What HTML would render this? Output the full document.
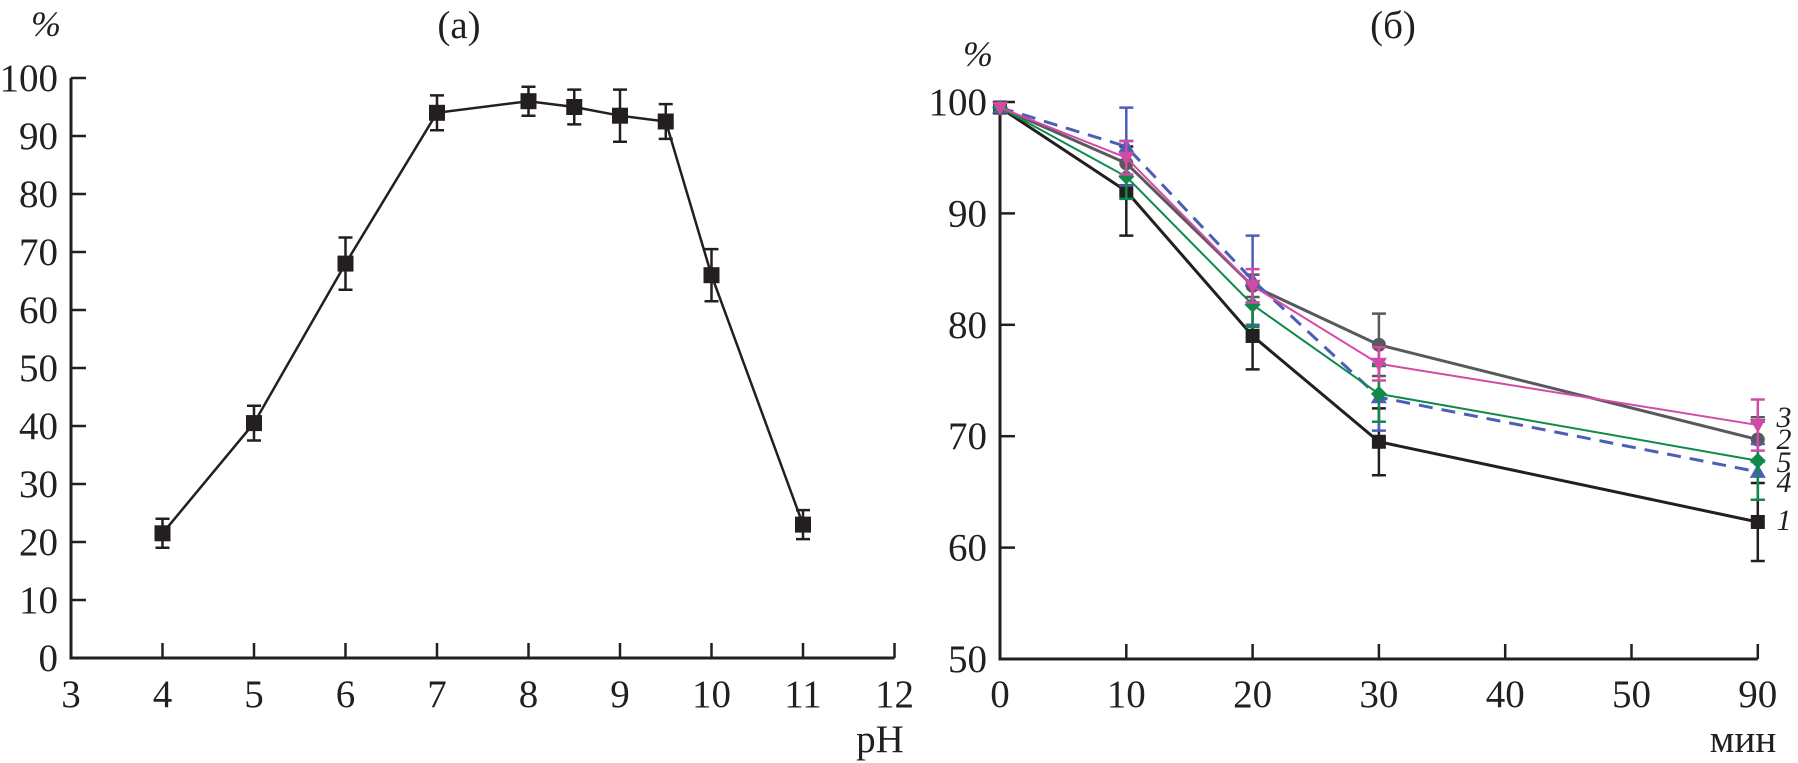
<!DOCTYPE html>
<html><head><meta charset="utf-8"><style>
html,body{margin:0;padding:0;background:#fff;}
svg{display:block;}
text{font-family:"Liberation Serif",serif;fill:#231f20;}
</style></head><body>
<svg id="fig" width="1798" height="763" viewBox="0 0 1798 763" xmlns="http://www.w3.org/2000/svg">
<g id="left"></g>
<g id="right"></g>
</svg>
<script>
// Left chart data
const phValues = [4,5,6,7,8,8.5,9,9.5,10,11];
const activity = [21.5,40.5,68,94,96,95,93.5,92.5,66,23];
const activityErr = [2.5,3,4.5,3,2.5,3,4.5,3,4.5,2.5];
const phTicks = [3,4,5,6,7,8,9,10,11,12];
const pctTicksA = [0,10,20,30,40,50,60,70,80,90,100];
// Right chart data
const timeCats = ["0","10","20","30","40","50","90"];
const timeIdx = [0,1,2,3,6];
const s1 = [99.5,92,79,69.5,62.3];
const s1Err = [0,4,3,3,3.5];
const s2 = [99.5,94.5,83.5,78.2,69.7];
const s2Err = [0,2,1,2.8,2];
const s3 = [99.5,95,83.5,76.5,71];
const s3Err = [0,1.5,1.5,1.5,2.3];
const s4 = [99.5,96,84,73.5,66.8];
const s4Err = [0,3.5,4,3,2.5];
const s5 = [99.5,93.3,81.8,73.8,67.8];
const s5Err = [0,2,2,2.5,3.5];
const pctTicksB = [50,60,70,80,90,100];

const NS="http://www.w3.org/2000/svg";
function mk(parent,tag,attrs,txt){const e=document.createElementNS(NS,tag);for(const k in attrs)e.setAttribute(k,attrs[k]);if(txt!==undefined)e.textContent=txt;parent.appendChild(e);return e;}

// ---- Left chart
const L=document.getElementById('left');
const xA=v=>71+(v-3)*91.5;
const yA=v=>658-v*5.8;
let e;
e=mk(L,'path',{d:`M71,${yA(100)} V658 H${xA(12)}`,fill:'none',stroke:'#231f20','stroke-width':3});


pctTicksA.forEach(v=>{
 e=mk(L,'line',{x1:71,x2:86,y1:yA(v),y2:yA(v),stroke:'#231f20','stroke-width':2.5});
 
 
 e=mk(L,'text',{x:58,y:yA(v)+13,'text-anchor':'end','font-size':39},String(v));
 
 
});
phTicks.forEach(v=>{
 if(v>3){e=mk(L,'line',{x1:xA(v),x2:xA(v),y1:658,y2:643,stroke:'#231f20','stroke-width':2.5});
 
 }
 e=mk(L,'text',{x:xA(v),y:707,'text-anchor':'middle','font-size':39},String(v));
 
 
});
e=mk(L,'polyline',{points:phValues.map((p,i)=>xA(p)+','+yA(activity[i])).join(' '),fill:'none',stroke:'#231f20','stroke-width':2.5});


phValues.forEach((p,i)=>{
 const x=xA(p),y1=yA(activity[i]+activityErr[i]),y2=yA(activity[i]-activityErr[i]);
 e=mk(L,'path',{d:`M${x},${y1}V${y2}M${x-7},${y1}H${x+7}M${x-7},${y2}H${x+7}`,stroke:'#231f20','stroke-width':2.5,fill:'none'});
 
 
 e=mk(L,'rect',{x:x-8,y:yA(activity[i])-8,width:16,height:16,fill:'#231f20'});
 
 
});
e=mk(L,'text',{x:459,y:38,'text-anchor':'middle','font-size':39},'(а)');


e=mk(L,'text',{x:46,y:36,'text-anchor':'middle','font-size':36,'font-style':'italic'},'%');


e=mk(L,'text',{x:880,y:752,'text-anchor':'middle','font-size':39},'pH');



// ---- Right chart
const R=document.getElementById('right');
const xB=i=>1000+i*126.3;
const yB=v=>659-(v-50)*11.14;
e=mk(R,'path',{d:`M1000,${yB(100)} V659 H${xB(6)}`,fill:'none',stroke:'#231f20','stroke-width':3});


pctTicksB.forEach(v=>{
 e=mk(R,'line',{x1:1000,x2:1015,y1:yB(v),y2:yB(v),stroke:'#231f20','stroke-width':2.5});
 
 
 e=mk(R,'text',{x:987,y:yB(v)+13,'text-anchor':'end','font-size':39},String(v));
 
 
});
timeCats.forEach((c,i)=>{
 if(i>0){e=mk(R,'line',{x1:xB(i),x2:xB(i),y1:659,y2:644,stroke:'#231f20','stroke-width':2.5});
 
 }
 e=mk(R,'text',{x:xB(i),y:707,'text-anchor':'middle','font-size':39},c);
 
 
});
const series=[
 {v:s2,err:s2Err,c:'#58595b',w:3,m:'circle',n:'series-2'},
 {v:s1,err:s1Err,c:'#231f20',w:3,m:'square',n:'series-1'},
 {v:s4,err:s4Err,c:'#4a5fb5',w:3,m:'tri-up',n:'series-4',dash:'14,9'},
 {v:s5,err:s5Err,c:'#0f8a4a',w:2,m:'diamond',n:'series-5'},
 {v:s3,err:s3Err,c:'#d24aa6',w:2,m:'tri-down',n:'series-3'}
];
series.forEach(s=>{
 const g=mk(R,'g',{});
 
 
 const a={points:timeIdx.map((t,i)=>xB(t)+','+yB(s.v[i])).join(' '),fill:'none',stroke:s.c,'stroke-width':s.w};
 if(s.dash)a['stroke-dasharray']=s.dash;
 e=mk(g,'polyline',a);
 
 
 timeIdx.forEach((t,i)=>{
  const x=xB(t),y=yB(s.v[i]);
  if(s.err[i]>0){
   const y1=yB(s.v[i]+s.err[i]),y2=yB(s.v[i]-s.err[i]);
   e=mk(g,'path',{d:`M${x},${y1}V${y2}M${x-7},${y1}H${x+7}M${x-7},${y2}H${x+7}`,stroke:s.c,'stroke-width':2.5,fill:'none'});
   
   
  }
  let mEl;
  if(s.m==='square')mEl=mk(g,'rect',{x:x-7,y:y-7,width:14,height:14,fill:s.c});
  else if(s.m==='circle')mEl=mk(g,'circle',{cx:x,cy:y,r:7,fill:s.c});
  else if(s.m==='tri-up')mEl=mk(g,'polygon',{points:`${x},${y-8} ${x-8},${y+6} ${x+8},${y+6}`,fill:s.c});
  else if(s.m==='tri-down')mEl=mk(g,'polygon',{points:`${x},${y+8} ${x-8},${y-6} ${x+8},${y-6}`,fill:s.c});
  else mEl=mk(g,'polygon',{points:`${x},${y-8} ${x+8},${y} ${x},${y+8} ${x-8},${y}`,fill:s.c});
  
  
 });
});
const lbls=[['3',427],['2',449],['5',472],['4',492],['1',530]];
lbls.forEach(l=>{
 e=mk(R,'text',{x:1784,y:l[1],'text-anchor':'middle','font-size':30,'font-style':'italic'},l[0]);
 
 
});
e=mk(R,'text',{x:1393,y:38,'text-anchor':'middle','font-size':39},'(б)');


e=mk(R,'text',{x:978,y:66,'text-anchor':'middle','font-size':36,'font-style':'italic'},'%');


e=mk(R,'text',{x:1743,y:752,'text-anchor':'middle','font-size':39},'мин');


</script>
</body></html>
